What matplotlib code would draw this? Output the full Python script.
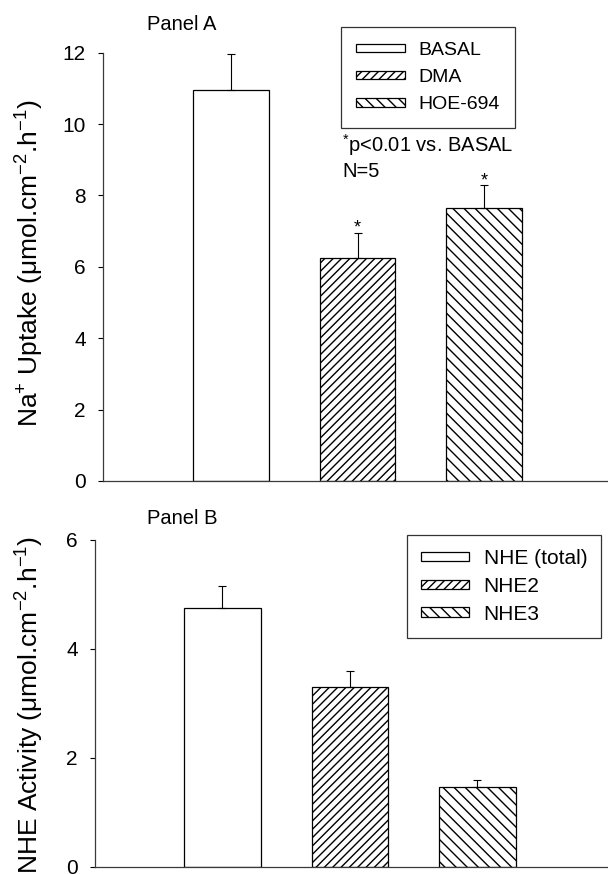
import numpy as np
import matplotlib
matplotlib.use('Agg')
import matplotlib.pyplot as plt

plt.rcParams['font.family'] = ['Liberation Sans', 'DejaVu Sans']
plt.rcParams['mathtext.fontset'] = 'custom'
plt.rcParams['mathtext.rm'] = 'Liberation Sans'
plt.rcParams['mathtext.it'] = 'Liberation Sans:italic'
plt.rcParams['hatch.linewidth'] = 1.0

# ---- data ----
a_labels = ['BASAL', 'DMA', 'HOE-694']
a_vals = [10.95, 6.25, 7.65]
a_err = [1.01, 0.70, 0.64]
a_sig = [False, True, True]

b_labels = ['NHE (total)', 'NHE2', 'NHE3']
b_vals = [4.75, 3.30, 1.46]
b_err = [0.41, 0.30, 0.13]

hatches = ['', '////', '\\\\\\']

fig = plt.figure(figsize=(6.08, 8.74), dpi=100)
axA = fig.add_axes([103 / 608, 0.4497, 504 / 608, 0.490])
axB = fig.add_axes([95 / 608, 0.0084, 512 / 608, 0.3738])


def draw(ax, vals, err, labels, ymax, ystep, ylabel, xlim, ylab_y):
    x = np.arange(len(vals))
    for i, v in enumerate(vals):
        ax.bar(x[i], v, 0.6, color='white', edgecolor='black', lw=0.9,
               hatch=hatches[i], label=labels[i], zorder=2)
    ax.errorbar(x, vals, yerr=[np.zeros(len(err)), err], fmt='none',
                ecolor='black', elinewidth=0.8, capsize=3, capthick=0.8, zorder=3)
    ax.set_xlim(*xlim)
    ax.set_ylim(0, ymax)
    ax.set_yticks(np.arange(0, ymax + 0.1, ystep))
    ax.set_xticks([])
    for s in ['top', 'right']:
        ax.spines[s].set_visible(False)
    for s in ['left', 'bottom']:
        ax.spines[s].set_linewidth(0.9)
        ax.spines[s].set_color('#3a3a3a')
    ax.tick_params(axis='y', direction='out', length=3.5, width=0.8,
                   labelsize=15, pad=9)
    ax.set_ylabel(ylabel, fontsize=19)
    ax.yaxis.set_label_coords(46 / 608, 1 - ylab_y / 874, transform=fig.transFigure)


draw(axA, a_vals, a_err, a_labels, 12, 2,
     'Na$^{+}$ Uptake (\u03bcmol.cm$^{-2}$.h$^{-1}$)', (-1.012, 2.972), 263)
draw(axB, b_vals, b_err, b_labels, 6, 2,
     'NHE Activity (\u03bcmol.cm$^{-2}$.h$^{-1}$)', (-1.0, 3.016), 705)

for i, s in enumerate(a_sig):
    if s:
        axA.text(i, a_vals[i] + a_err[i], '*', ha='center', va='baseline',
                 fontsize=13)

fig.text(342 / 608, 1 - 152 / 874, '$^{*}$p<0.01 vs. BASAL', fontsize=14.5, va='baseline')
fig.text(342 / 608, 1 - 177 / 874, 'N=5', fontsize=14.5, va='baseline')

fig.text(147 / 608, 1 - 30 / 874, 'Panel A', fontsize=14.5, va='baseline')
fig.text(147 / 608, 1 - 524 / 874, 'Panel B', fontsize=14.5, va='baseline')

leg_kw = dict(frameon=True, fancybox=False, edgecolor='black',
              handleheight=0.32, handletextpad=0.7, borderaxespad=0, loc='upper left')
legA = axA.legend(bbox_to_anchor=(341 / 608, 1 - 27 / 874), bbox_transform=fig.transFigure,
                  fontsize=14, handlelength=2.5, labelspacing=0.52, borderpad=0.77, **leg_kw)
legB = axB.legend(bbox_to_anchor=(407 / 608, 1 - 535 / 874), bbox_transform=fig.transFigure,
                  fontsize=15, handlelength=2.3, labelspacing=0.42, borderpad=0.68, **leg_kw)
for lg in (legA, legB):
    lg.get_frame().set_linewidth(0.9)

fig.savefig('out.png', dpi=100)
